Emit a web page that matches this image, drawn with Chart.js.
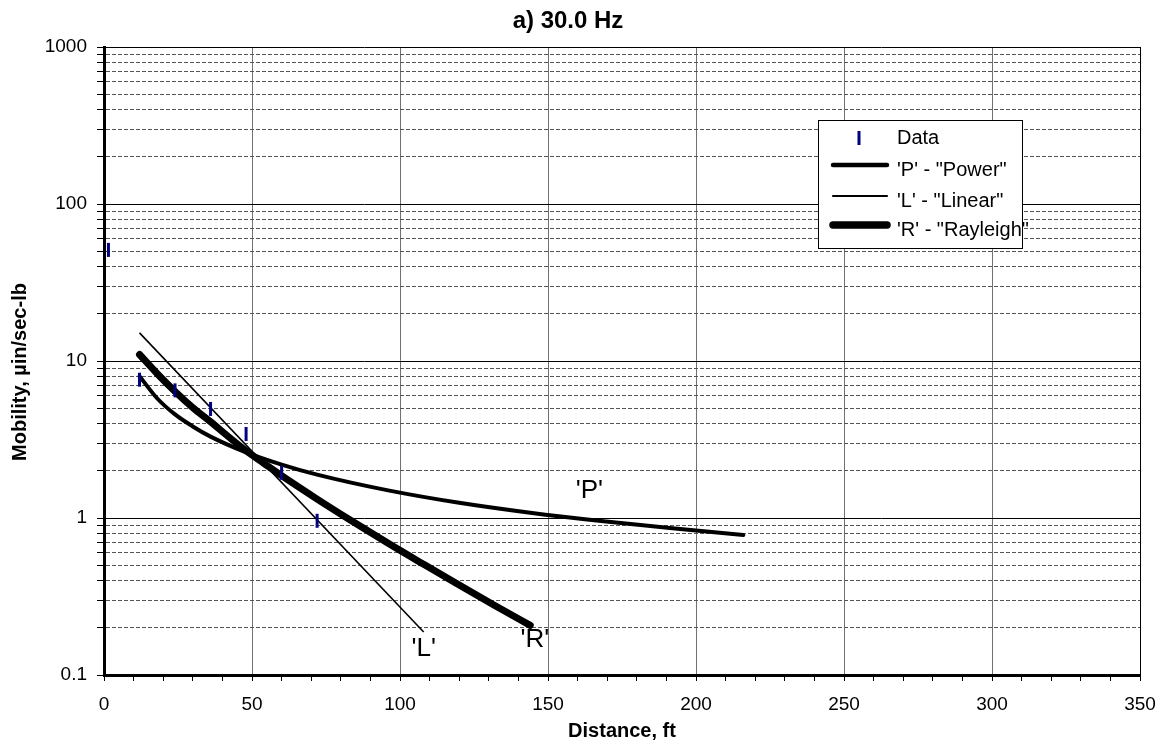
<!DOCTYPE html>
<html>
<head>
<meta charset="utf-8">
<script src="https://cdn.jsdelivr.net/npm/chart.js@4.4.1/dist/chart.umd.min.js"></script>
<style>
  html, body { margin: 0; padding: 0; background: #fff; }
</style>
</head>
<body>
<canvas id="chart" width="1169" height="754"></canvas>
<script>
  // measured points (ft, µin/sec-lb)
  const dataDistance = [1.5, 12, 24, 36, 48, 60, 72];
  const dataMobility = [51, 7.6, 6.5, 4.95, 3.43, 1.94, 0.96];

  // 'P' - power fit
  const powerDistance = [12, 18, 24, 30, 36, 48, 60, 72, 96, 120, 144, 168, 192, 216];
  const powerMobility = [8.0, 5.77, 4.57, 3.83, 3.30, 2.62, 2.19, 1.89, 1.50, 1.25, 1.08, 0.956, 0.86, 0.78];

  // 'L' - linear fit (straight on log axis)
  const linearDistance = [12, 108];
  const linearMobility = [15.1, 0.188];

  // 'R' - rayleigh fit
  const rayleighDistance = [12, 18, 24, 30, 36, 42, 48, 54, 60, 72, 84, 96, 108, 120, 132, 144];
  const rayleighMobility = [11.0, 8.3, 6.4, 5.05, 4.1, 3.3, 2.68, 2.23, 1.86, 1.32, 0.95, 0.69, 0.507, 0.374, 0.277, 0.207];

  // axis ticks
  const yDecades = [0.1, 1, 10, 100, 1000];
  const yTicks = [0.1, 0.2, 0.3, 0.4, 0.5, 0.6, 0.7, 0.8, 0.9,
                  1, 2, 3, 4, 5, 6, 7, 8, 9,
                  10, 20, 30, 40, 50, 60, 70, 80, 90,
                  100, 200, 300, 400, 500, 600, 700, 800, 900, 1000];
  const xMajorStep = 50;

  const FONT = '"Liberation Sans", Arial, sans-serif';
  Chart.defaults.font.family = FONT;
  Chart.defaults.color = '#000';

  function toPoints(xs, ys) {
    return xs.map((x, i) => ({ x: x, y: ys[i] }));
  }

  const isMajorY = v => yDecades.some(d => Math.abs(d - v) < 1e-9);

  // =========================
  // TITLES, LEGEND, CURVE LABELS
  // =========================
  const overlayPlugin = {
    id: 'overlay',
    afterDraw(chart) {
      const ctx = chart.ctx;
      const xs = chart.scales.x, ys = chart.scales.y;
      const ds = chart.data.datasets;

      ctx.save();
      ctx.fillStyle = '#000';
      ctx.textAlign = 'center';
      ctx.textBaseline = 'middle';

      // chart title
      ctx.font = 'bold 24px ' + FONT;
      ctx.fillText('a) 30.0 Hz', 568, 21);

      // y axis title
      ctx.save();
      ctx.translate(20, 372);
      ctx.rotate(-Math.PI / 2);
      ctx.font = 'bold 20px ' + FONT;
      ctx.fillText('Mobility, µin/sec-lb', 0, 0);
      ctx.restore();

      // curve labels
      ctx.font = '26px ' + FONT;
      [["'P'", 164, 1.49], ["'L'", 108, 0.147], ["'R'", 145.6, 0.167]].forEach(l => {
        ctx.fillText(l[0], xs.getPixelForValue(l[1]), ys.getPixelForValue(l[2]));
      });

      // legend box
      const bx = 818, by = 120, bw = 204, bh = 128;
      ctx.fillStyle = '#fff';
      ctx.fillRect(bx, by, bw, bh);
      ctx.strokeStyle = '#000';
      ctx.lineWidth = 1;
      ctx.strokeRect(bx + 0.5, by + 0.5, bw, bh);

      ctx.font = '20px ' + FONT;
      ctx.textAlign = 'left';
      const rows = [138, 170, 201, 230];
      ds.forEach((d, i) => {
        const y = rows[i];
        ctx.strokeStyle = d.borderColor;
        if (d.showLine === false) {
          ctx.lineWidth = d.pointBorderWidth;
          ctx.beginPath();
          ctx.moveTo(859, y - 7);
          ctx.lineTo(859, y + 7);
          ctx.stroke();
        } else {
          ctx.lineWidth = d.borderWidth + 0.5;
          ctx.lineCap = 'round';
          ctx.beginPath();
          ctx.moveTo(833, y - 5);
          ctx.lineTo(887, y - 5);
          ctx.stroke();
        }
        ctx.fillStyle = '#000';
        ctx.fillText(d.label, 897, y);
      });
      ctx.restore();
    }
  };

  new Chart(document.getElementById('chart'), {
    type: 'scatter',
    data: {
      datasets: [
        {
          label: 'Data',
          data: toPoints(dataDistance, dataMobility),
          showLine: false,
          pointStyle: 'line',
          rotation: 90,
          pointRadius: 7,
          pointBorderWidth: 3,
          borderColor: '#000080',
          backgroundColor: '#000080'
        },
        {
          label: '\'P\' - "Power"',
          data: toPoints(powerDistance, powerMobility),
          showLine: true,
          borderColor: '#000',
          borderWidth: 4,
          borderCapStyle: 'round',
          cubicInterpolationMode: 'monotone',
          pointRadius: 0
        },
        {
          label: '\'L\' - "Linear"',
          data: toPoints(linearDistance, linearMobility),
          showLine: true,
          borderColor: '#000',
          borderWidth: 1.6,
          pointRadius: 0
        },
        {
          label: '\'R\' - "Rayleigh"',
          data: toPoints(rayleighDistance, rayleighMobility),
          showLine: true,
          borderColor: '#000',
          borderWidth: 7,
          borderCapStyle: 'round',
          cubicInterpolationMode: 'monotone',
          pointRadius: 0
        }
      ]
    },
    options: {
      responsive: false,
      animation: false,
      layout: { padding: { top: 47, right: 29, left: 0, bottom: 0 } },
      plugins: {
        legend: { display: false },
        tooltip: { enabled: false }
      },
      scales: {
        x: {
          type: 'linear',
          min: 0,
          max: 350,
          ticks: {
            stepSize: 10,
            autoSkip: false,
            maxRotation: 0,
            padding: 12,
            font: { size: 19 },
            callback: v => (v % xMajorStep === 0 ? String(v) : '')
          },
          grid: {
            color: c => {
              if (!c.tick) return 'rgba(0,0,0,0)';
              if (c.tick.value === 350) return '#000';
              return c.tick.value % xMajorStep === 0 ? '#707070' : 'rgba(0,0,0,0)';
            },
            lineWidth: 1,
            tickColor: '#000',
            tickLength: 6
          },
          border: { color: '#000', width: 3 },
          title: {
            display: true,
            text: 'Distance, ft',
            font: { size: 20, weight: 'bold' },
            padding: { top: 0, bottom: 11 }
          },
          afterFit: s => { s.height = 79; }
        },
        y: {
          type: 'logarithmic',
          min: 0.1,
          max: 1000,
          afterBuildTicks: s => { s.ticks = yTicks.map(v => ({ value: v })); },
          ticks: {
            autoSkip: false,
            padding: 10,
            font: { size: 19 },
            callback: v => (isMajorY(v) ? String(v) : '')
          },
          grid: {
            color: c => (c.tick && isMajorY(c.tick.value) ? '#000' : '#555'),
            lineWidth: 1,
            tickColor: '#000',
            tickLength: 7
          },
          border: {
            color: '#000',
            width: 3,
            dash: c => (c.tick && !isMajorY(c.tick.value) ? [4, 2] : [])
          },
          afterFit: s => { s.width = 104; }
        }
      }
    },
    plugins: [overlayPlugin]
  });
</script>
</body>
</html>
